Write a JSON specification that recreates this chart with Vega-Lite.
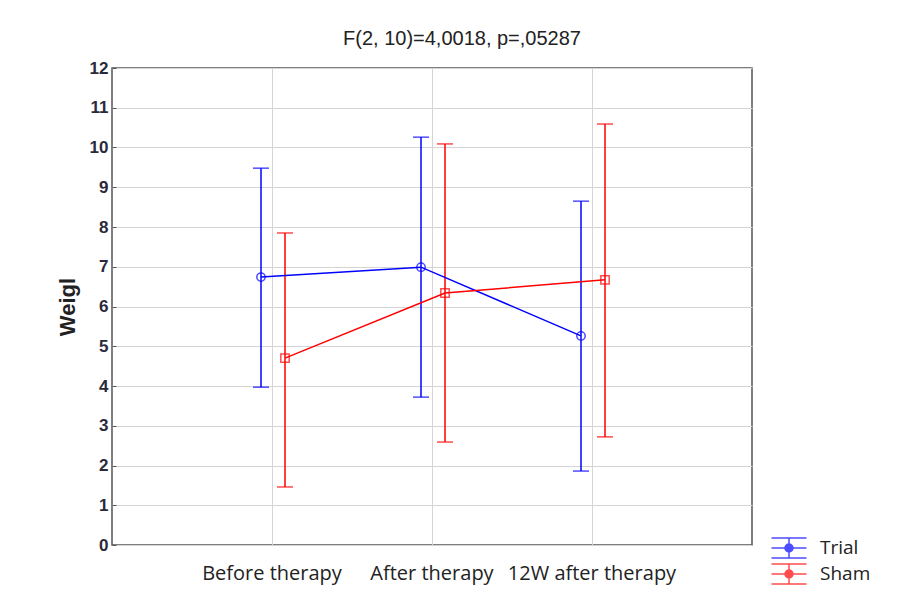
{
  "$schema": "https://vega.github.io/schema/vega-lite/v6.json",
  "width": 640,
  "height": 477,
  "autosize": {"type": "none"},
  "padding": {"left": 112, "top": 68, "right": 147, "bottom": 51},
  "background": "white",
  "title": {
    "text": "F(2, 10)=4,0018, p=,05287",
    "font": "Liberation Sans",
    "fontSize": 20,
    "fontWeight": "normal",
    "color": "#222",
    "anchor": "middle",
    "dx": 30,
    "offset": 10
  },
  "config": {
    "view": {"stroke": "#555", "strokeWidth": 1.5},
    "axis": {"gridColor": "#d4d4d4", "gridWidth": 1, "domain": false},
    "axisY": {
      "tickCount": 12,
      "labelFont": "Liberation Sans",
      "labelFontSize": 17,
      "labelFontWeight": "bold",
      "labelColor": "#2a2a3a",
      "tickSize": -4,
      "tickColor": "#555",
      "labelPadding": 8,
      "titleFont": "Liberation Sans",
      "titleFontSize": 22,
      "titleFontWeight": "bold",
      "titleColor": "#222",
      "titlePadding": 10
    }
  },
  "data": {
    "values": [
      {"time": "Before therapy", "group": "Trial", "mean": 6.74, "lo": 3.97, "hi": 9.48},
      {"time": "After therapy", "group": "Trial", "mean": 6.99, "lo": 3.72, "hi": 10.26},
      {"time": "12W after therapy", "group": "Trial", "mean": 5.26, "lo": 1.86, "hi": 8.65},
      {"time": "Before therapy", "group": "Sham", "mean": 4.70, "lo": 1.46, "hi": 7.85},
      {"time": "After therapy", "group": "Sham", "mean": 6.34, "lo": 2.59, "hi": 10.09},
      {"time": "12W after therapy", "group": "Sham", "mean": 6.67, "lo": 2.72, "hi": 10.59}
    ]
  },
  "encoding": {
    "x": {
      "field": "time",
      "type": "nominal",
      "sort": ["Before therapy", "After therapy", "12W after therapy"],
      "scale": {"paddingInner": 0, "paddingOuter": 0.5},
      "axis": {
        "title": null,
        "labelAngle": 0,
        "bandPosition": 0.5,
        "grid": true,
        "ticks": false,
        "labelPadding": 18,
        "labelFont": "Open Sans",
        "labelFontSize": 20,
        "labelColor": "#222"
      }
    },
    "xOffset": {
      "field": "group",
      "type": "nominal",
      "scale": {"domain": ["Trial", "Sham"], "range": [57, 105], "paddingInner": 0, "paddingOuter": 0}
    },
    "color": {
      "field": "group",
      "type": "nominal",
      "scale": {"domain": ["Trial", "Sham"], "range": ["#0000ff", "#ff0000"]},
      "legend": {
        "title": null,
        "orient": "none",
        "legendX": 666,
        "legendY": 469,
        "padding": 0,
        "symbolType": "M-1.75,-1H1.75M-1.75,1H1.75M0,-1V1M-1.75,0H1.75M0.4,0A0.4,0.4 0 1,1 -0.4,0A0.4,0.4 0 1,1 0.4,0",
        "symbolSize": 400,
        "symbolStrokeWidth": 1.5,
        "symbolFillColor": "transparent",
        "labelFont": "Open Sans",
        "labelFontSize": 19,
        "labelColor": "#222",
        "labelOffset": 20,
        "rowPadding": 0
      }
    }
  },
  "layer": [
    {
      "mark": {"type": "rule", "strokeWidth": 1.5},
      "encoding": {
        "y": {
          "field": "lo",
          "type": "quantitative",
          "title": "Weigl",
          "scale": {"domain": [0, 12], "nice": false}
        },
        "y2": {"field": "hi"}
      }
    },
    {
      "mark": {"type": "tick", "orient": "horizontal", "size": 16, "thickness": 1.5},
      "encoding": {"y": {"field": "lo", "type": "quantitative", "title": "Weigl"}}
    },
    {
      "mark": {"type": "tick", "orient": "horizontal", "size": 16, "thickness": 1.5},
      "encoding": {"y": {"field": "hi", "type": "quantitative", "title": "Weigl"}}
    },
    {
      "mark": {"type": "line", "strokeWidth": 1.5},
      "encoding": {"y": {"field": "mean", "type": "quantitative", "title": "Weigl"}}
    },
    {
      "transform": [{"filter": "datum.group === 'Trial'"}],
      "mark": {"type": "point", "shape": "circle", "filled": false, "strokeWidth": 1.5, "size": 70},
      "encoding": {"y": {"field": "mean", "type": "quantitative", "title": "Weigl"}}
    },
    {
      "transform": [{"filter": "datum.group === 'Sham'"}],
      "mark": {"type": "point", "shape": "square", "filled": false, "strokeWidth": 1.5, "size": 70},
      "encoding": {"y": {"field": "mean", "type": "quantitative", "title": "Weigl"}}
    }
  ]
}
